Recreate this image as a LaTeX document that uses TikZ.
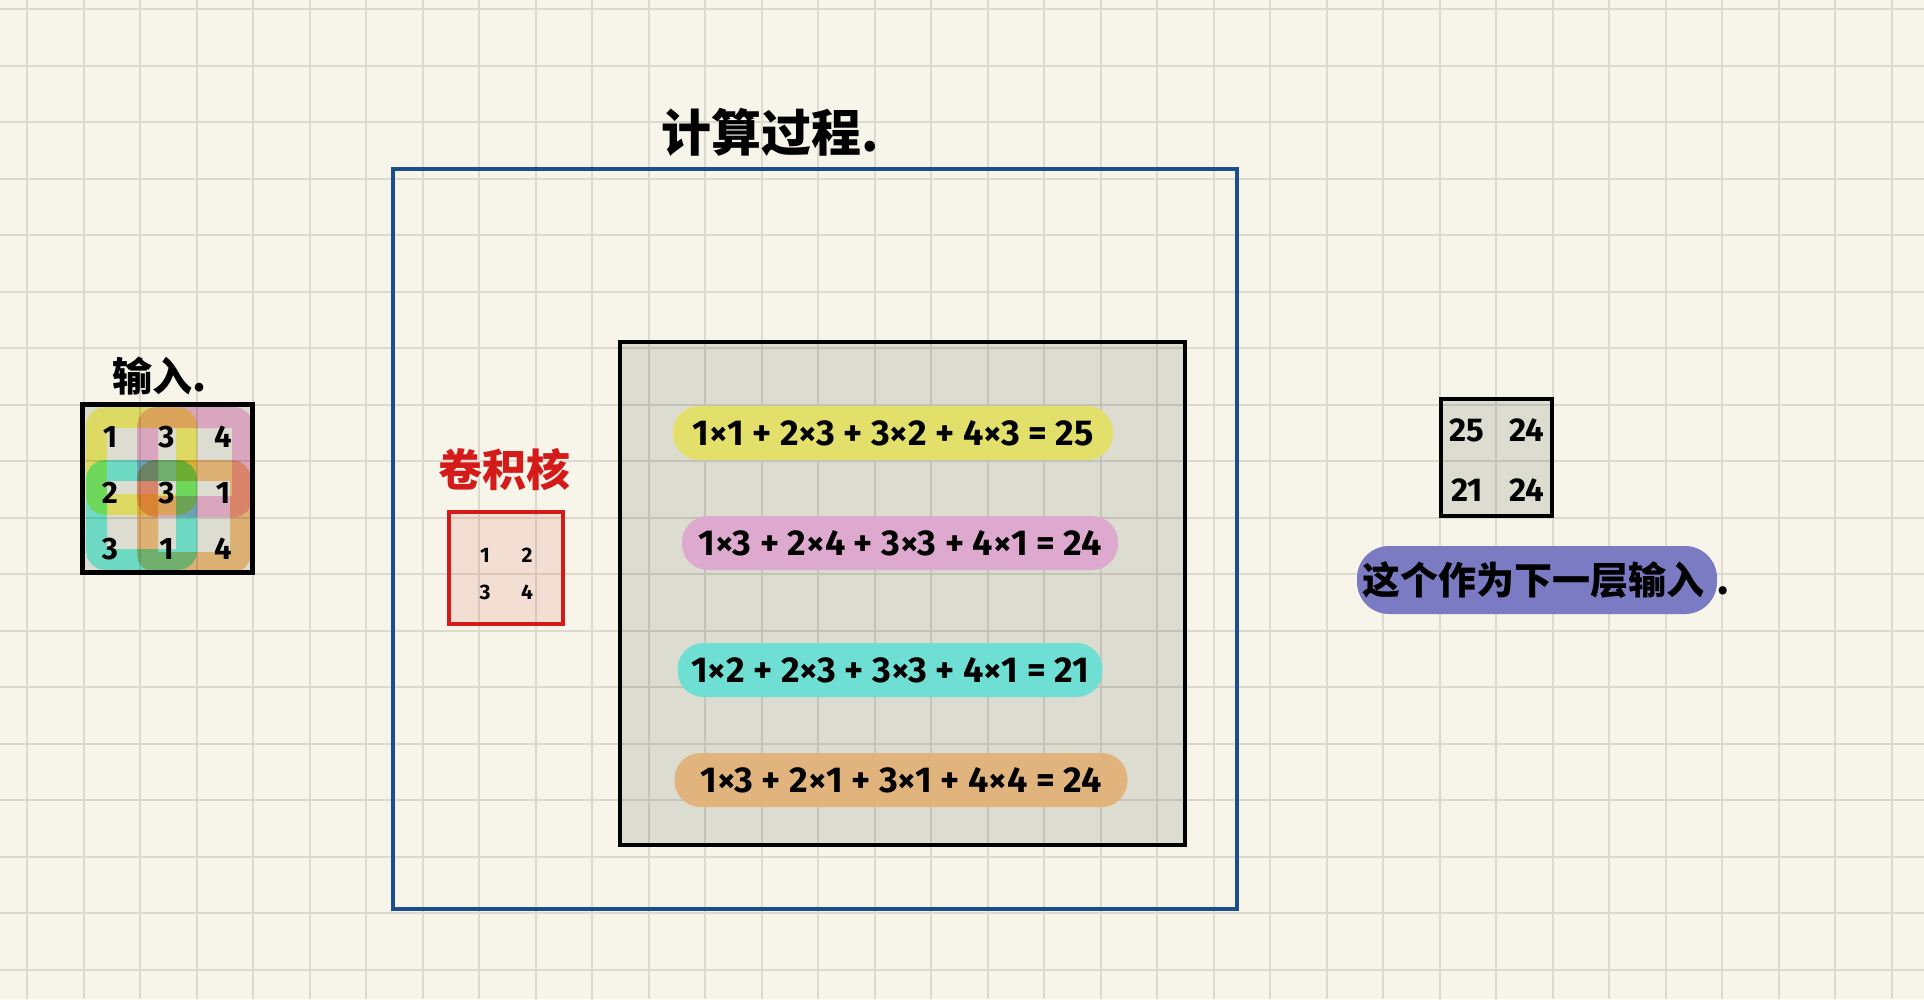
\documentclass[tikz,border=0pt]{standalone}
\usepackage{fontspec}
\setmainfont{Fira Sans}
\newfontfamily\cjk{Noto Sans CJK SC}
\usepackage{xcolor}
\usepackage{tikz}
\definecolor{paper}{HTML}{F7F5E9}
\definecolor{gridline}{HTML}{DCDACD}
\definecolor{frameblue}{HTML}{1A4E8F}
\definecolor{kernelred}{HTML}{D51A1A}
\definecolor{hlyellow}{HTML}{E2DF6A}
\definecolor{hlpink}{HTML}{DEA9CE}
\definecolor{hlcyan}{HTML}{70DFD3}
\definecolor{hlorange}{HTML}{E1B47D}
\definecolor{hlpurple}{HTML}{7B7BC4}
% lighter tones, they get multiplied with the grey cells
\definecolor{winyellow}{HTML}{FFFD79}
\definecolor{winpink}{HTML}{FCC0EA}
\definecolor{wincyan}{HTML}{7FFDF0}
\definecolor{winorange}{HTML}{FFCD8E}
\tikzset{every picture/.append style={font=\bfseries}}
\tikzset{
  eqline/.style={fill=#1, rounded corners=26pt, minimum height=54pt,
    inner sep=0pt, font=\bfseries\fontsize{36}{36}\selectfont},
  window/.style={draw=#1, line width=21pt, rounded corners=9pt, blend mode=multiply},
  cellnum/.style={font=\bfseries\fontsize{31}{31}\selectfont, inner sep=1pt},
  outnum/.style={font=\bfseries\fontsize{33}{33}\selectfont, inner sep=1pt},
  knum/.style={font=\bfseries\fontsize{21}{21}\selectfont, inner sep=1pt},
  handcjk/.style={font=\cjk\bfseries\fontsize{#1}{#1}\selectfont, inner sep=0pt},
}

\begin{document}
\begin{tikzpicture}[x=1pt,y=-1pt]
    \useasboundingbox (0,0) rectangle (1924,999);
    \fill[paper] (0,0) rectangle (1924,999);
    % paper grid
    \foreach \k in {0,...,33} {
      \draw[gridline,line width=2pt] ({27.3+56.5*\k},0) -- ({27.3+56.5*\k},999);
    }
    \foreach \k in {0,...,17} {
      \draw[gridline,line width=2pt] (0,{9+56.5*\k}) -- (1924,{9+56.5*\k});
    }

    % input
    \node[handcjk=40] (inlabel) at (160,376) {输入.};
    \fill[black,fill opacity=0.1] (82,404) rectangle (252,572);
    \begin{scope}
      \clip (82,404) rectangle (252,572);
      \draw[window=winyellow] (96.5,417.5) rectangle (186.5,504.5);
      \draw[window=winpink] (147.5,417.5) rectangle (242.5,506.5);
      \draw[window=wincyan] (96.5,470.5) rectangle (186.5,559.5);
      \draw[window=winorange] (147.5,470.5) rectangle (240.5,562.5);
    \end{scope}
    \draw[black,line width=5pt] (82,404) rectangle (252,572);
    \foreach \val/\col/\row in {1/0/0,3/1/0,4/2/0,2/0/1,3/1/1,1/2/1,3/0/2,1/1/2,4/2/2} {
      \node[cellnum] (in-\row-\col) at ({110+56.5*\col},{437+56*\row}) {\val};
    }

    % process frame
    \draw[frameblue,line width=3.5pt] (393,169) rectangle (1237,909);
    \node[handcjk=50] (title) at (770,132) {计算过程.};

    % kernel
    \node[handcjk=44,text=kernelred] (klabel) at (504,470) {卷积核};
    \fill[kernelred,fill opacity=0.1] (449,512) rectangle (563,624);
    \draw[kernelred,line width=4.5pt] (449,512) rectangle (563,624);
    \node[knum] (k-0-0) at (485,555) {1};
    \node[knum] (k-0-1) at (527,555) {2};
    \node[knum] (k-1-0) at (485,592) {3};
    \node[knum] (k-1-1) at (527,592) {4};

    % sums
    \fill[black,fill opacity=0.1] (620,342) rectangle (1185,845);
    \draw[black,line width=4pt] (620,342) rectangle (1185,845);
    \node[eqline=hlyellow,minimum width=440pt] (eq1) at (893,433) {1×1 + 2×3 + 3×2 + 4×3 = 25};
    \node[eqline=hlpink,minimum width=436pt] (eq2) at (900,543) {1×3 + 2×4 + 3×3 + 4×1 = 24};
    \node[eqline=hlcyan,minimum width=425pt] (eq3) at (890,670) {1×2 + 2×3 + 3×3 + 4×1 = 21};
    \node[eqline=hlorange,minimum width=453pt] (eq4) at (901,780) {1×3 + 2×1 + 3×1 + 4×4 = 24};

    % output
    \fill[black,fill opacity=0.1] (1441,399) rectangle (1552,516);
    \draw[black,line width=4.5pt] (1441,399) rectangle (1552,516);
    \node[outnum] (out-0-0) at (1467,430) {25};
    \node[outnum] (out-0-1) at (1527,430) {24};
    \node[outnum] (out-1-0) at (1467,490) {21};
    \node[outnum] (out-1-1) at (1527,490) {24};
    \fill[hlpurple,rounded corners=32pt] (1357,546) rectangle (1717,614);
    \node[handcjk=38,anchor=west] (nextlabel) at (1362,580) {这个作为下一层输入\hspace{12pt}.};
  \end{tikzpicture}
\end{document}
